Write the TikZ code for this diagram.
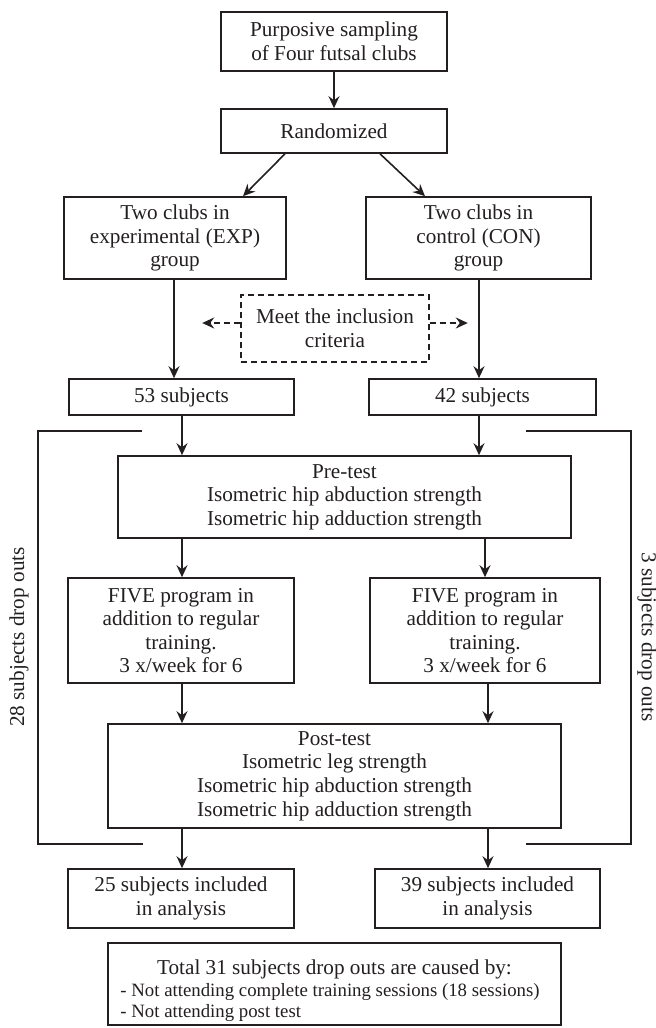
\documentclass[tikz,border=0pt]{standalone}
\usepackage{fontspec}
\setmainfont{Liberation Serif}
\usetikzlibrary{arrows.meta}
\definecolor{ink}{HTML}{231F20}
\begin{document}
\begin{tikzpicture}[x=0.5pt,y=-0.5pt, color=ink,
  box/.style={draw, line width=0.8pt, inner sep=0pt, align=center, font=\fontsize{10.6}{11.8}\selectfont},
  dbox/.style={box, dash pattern=on 3pt off 2pt},
  arr/.style={line width=0.8pt, -{Stealth[length=6pt,width=5.5pt,inset=2pt]}},
  darr/.style={arr, dash pattern=on 3pt off 2pt},
  ln/.style={line width=0.8pt},
  lbl/.style={inner sep=0pt, font=\fontsize{10.6}{11.8}\selectfont},
  small/.style={inner sep=0pt, font=\fontsize{9.4}{11}\selectfont}]
\useasboundingbox (0,0) rectangle (656,1028);

\node[box, minimum width=113pt, minimum height=29.5pt] (b1) at (334,41.5) {Purposive sampling\\of Four futsal clubs};
\node[box, minimum width=113pt, minimum height=22pt] (rand) at (334,131) {Randomized};
\node[box, minimum width=111pt, minimum height=41pt] (exp) at (175,238) {Two clubs in\\experimental (EXP)\\group};
\node[box, minimum width=112.5pt, minimum height=41pt] (con) at (478.5,238) {Two clubs in\\control (CON)\\group};
\node[dbox, minimum width=94pt, minimum height=33.5pt] (incl) at (335,328.5) {Meet the inclusion\\criteria};
\node[box, minimum width=112.5pt, minimum height=18pt] (s53) at (181.5,397) {53 subjects};
\node[box, minimum width=113.5pt, minimum height=18pt] (s42) at (482.5,397) {42 subjects};
\node[box, minimum width=226.5pt, minimum height=41pt] (pre) at (344.5,497) {Pre-test\\Isometric hip abduction strength\\Isometric hip adduction strength};
\node[box, minimum width=113pt, minimum height=52.5pt] (fiveL) at (181,630.5) {FIVE program in\\addition to regular\\training.\\3 x/week for 6};
\node[box, minimum width=115pt, minimum height=52.5pt] (fiveR) at (485,630.5) {FIVE program in\\addition to regular\\training.\\3 x/week for 6};
\node[box, minimum width=226.5pt, minimum height=52pt] (post) at (334.5,776) {Post-test\\Isometric leg strength\\Isometric hip abduction strength\\Isometric hip adduction strength};
\node[box, minimum width=113pt, minimum height=29.5pt] (s25) at (181,898.5) {25 subjects included\\in analysis};
\node[box, minimum width=112.5pt, minimum height=29.5pt] (s39) at (487.5,898.5) {39 subjects included\\in analysis};
\node[box, minimum width=226.5pt, minimum height=41pt] (note) at (334.5,984) {};
\node[lbl, anchor=base] (t1) at (334.5,974) {Total 31 subjects drop outs are caused by:};
\node[small, anchor=base west] (t2) at (120,996) {- Not attending complete training sessions (18 sessions)};
\node[small, anchor=base west] (t3) at (120,1017) {- Not attending post test};

\node[lbl, rotate=90] (d28) at (19,637) {28 subjects drop outs};
\node[lbl, rotate=-90] (d3) at (647,637) {3 subjects drop outs};

\coordinate (xa) at (174,0);
\coordinate (xb) at (182,0);
\coordinate (xc) at (479,0);
\coordinate (xd) at (485,0);
\coordinate (xe) at (488,0);

\draw[arr] (b1) -- (rand);
\draw[arr] ([xshift=-24.5pt]rand.south) -- ([xshift=34pt]exp.north);
\draw[arr] ([xshift=23pt]rand.south) -- ([xshift=-26.75pt]con.north);
\draw[arr] (exp.south -| xa) -- (s53.north -| xa);
\draw[arr] (con.south -| xc) -- (s42.north -| xc);
\draw[darr] ([yshift=2.75pt]incl.west) -- ++(-38,0);
\draw[darr] ([yshift=2.75pt]incl.east) -- ++(38,0);
\draw[arr] (s53.south -| xb) -- (pre.north -| xb);
\draw[arr] (s42.south -| xc) -- (pre.north -| xc);
\draw[arr] (pre.south -| xb) -- (fiveL.north -| xb);
\draw[arr] (pre.south -| xd) -- (fiveR.north -| xd);
\draw[arr] (fiveL.south -| xb) -- (post.north -| xb);
\draw[arr] (fiveR.south -| xe) -- (post.north -| xe);
\draw[arr] (post.south -| xb) -- (s25.north -| xb);
\draw[arr] (post.south -| xe) -- (s39.north -| xe);

\coordinate (L1) at (142,431);
\coordinate (L2) at (38,431);
\coordinate (L3) at (38,844);
\coordinate (L4) at (143,844);
\draw[ln] (L1) -- (L2) -- (L3) -- (L4);
\coordinate (R1) at (526,431);
\coordinate (R2) at (631,431);
\coordinate (R3) at (631,844);
\coordinate (R4) at (526,844);
\draw[ln] (R1) -- (R2) -- (R3) -- (R4);
\end{tikzpicture}
\end{document}
